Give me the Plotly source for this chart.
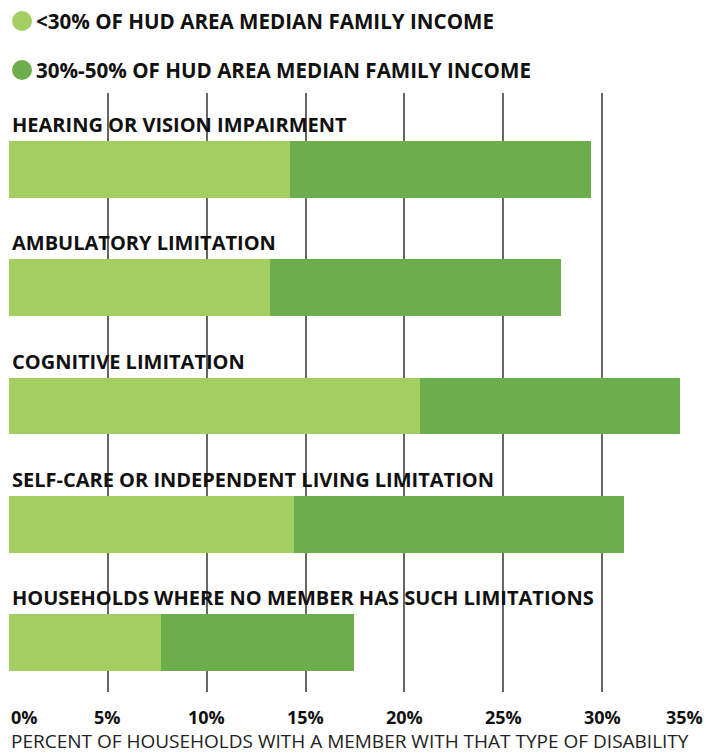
import plotly.graph_objects as go

categories = [
    "HEARING OR VISION IMPAIRMENT",
    "AMBULATORY LIMITATION",
    "COGNITIVE LIMITATION",
    "SELF-CARE OR INDEPENDENT LIVING LIMITATION",
    "HOUSEHOLDS WHERE NO MEMBER HAS SUCH LIMITATIONS",
]
below_30 = [14.2, 13.2, 20.8, 14.4, 7.7]
between_30_50 = [15.25, 14.7, 13.15, 16.7, 9.75]
series_names = ["<30% OF HUD AREA MEDIAN FAMILY INCOME", "30%-50% OF HUD AREA MEDIAN FAMILY INCOME"]
tick_vals = [0, 5, 10, 15, 20, 25, 30, 35]
tick_text = ["0%", "5%", "10%", "15%", "20%", "25%", "30%", "35%"]
x_title = "PERCENT OF HOUSEHOLDS WITH A MEMBER WITH THAT TYPE OF DISABILITY"

colors = ["#A3CE62", "#6CAE4D"]
font_fam = "Open Sans"
ypos = list(range(len(categories)))

# page body has an 8px margin; positions below are compensated for it
OFF = 8
PLOT_TOP = 93

fig = go.Figure()
fig.add_trace(go.Bar(y=ypos, x=below_30, orientation="h", marker=dict(color=colors[0], line=dict(width=0)),
                     width=0.48, name=series_names[0], showlegend=False, hoverinfo="x"))
fig.add_trace(go.Bar(y=ypos, x=between_30_50, orientation="h", marker=dict(color=colors[1], line=dict(width=0)),
                     width=0.48, name=series_names[1], showlegend=False, hoverinfo="x"))

annotations = []
for i, c in enumerate(categories):
    annotations.append(dict(x=0, y=i - 0.38, xref="x", yref="y", text="<b>%s</b>" % c, showarrow=False,
                            xanchor="left", yanchor="middle", xshift=1,
                            font=dict(family=font_fam, size=20, color="#111")))
for v, t in zip(tick_vals, tick_text):
    anchor = "left" if v == tick_vals[0] else ("right" if v == tick_vals[-1] else "center")
    annotations.append(dict(x=v, y=0, xref="x", yref="paper", text="<b>%s</b>" % t, showarrow=False,
                            xanchor=anchor, yanchor="top", yshift=-11, xshift=4 if anchor == "right" else 0,
                            font=dict(family=font_fam, size=18, color="#111")))
annotations.append(dict(x=0, y=0, xref="paper", yref="paper", text=x_title, showarrow=False,
                        xanchor="left", yanchor="middle", yshift=-48.5,
                        font=dict(family=font_fam, size=19, color="#222")))

shapes = []
for j, name in enumerate(series_names):
    yc = 21 + 49 * j
    shapes.append(dict(type="circle", xref="paper", yref="paper", xsizemode="pixel", ysizemode="pixel",
                       xanchor=0, yanchor=1, x0=3, x1=23, y0=PLOT_TOP - yc - 10, y1=PLOT_TOP - yc + 10,
                       fillcolor=colors[j], line=dict(width=0)))
    annotations.append(dict(x=0, y=1, xref="paper", yref="paper", text="<b>%s</b>" % name, showarrow=False,
                            xanchor="left", yanchor="middle", xshift=25, yshift=PLOT_TOP - yc,
                            font=dict(family=font_fam, size=20.6, color="#111")))

fig.update_layout(
    width=715 - OFF, height=753 - OFF,
    margin=dict(l=9 - OFF, r=14, t=PLOT_TOP - OFF, b=61),
    barmode="stack",
    plot_bgcolor="white", paper_bgcolor="white",
    bargap=0,
    xaxis=dict(range=[0, 35], tickvals=tick_vals, showticklabels=False, showgrid=True,
               gridcolor="#666", gridwidth=1.5, zeroline=False, showline=False, fixedrange=True),
    yaxis=dict(range=[4.418, -0.647], showticklabels=False, showgrid=False, zeroline=False, fixedrange=True),
    annotations=annotations,
    shapes=shapes,
    showlegend=False,
)
fig.write_html("out.html")
